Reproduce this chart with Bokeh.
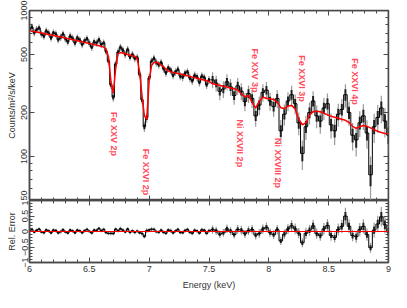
import numpy as np
from bokeh.plotting import figure
from bokeh.models import LogAxis, LinearAxis, FixedTicker, Range1d, Span
from bokeh.layouts import column
from bokeh.embed import file_html
from bokeh.resources import INLINE
from bokeh.core.properties import value

# ---------------- data ----------------
energy = [6.00, 6.02, 6.04, 6.06, 6.08, 6.10, 6.12, 6.14, 6.16, 6.18,
          6.20, 6.22, 6.24, 6.26, 6.28, 6.30, 6.32, 6.34, 6.36, 6.38,
          6.40, 6.42, 6.44, 6.46, 6.48, 6.50, 6.52, 6.54, 6.56, 6.58,
          6.60, 6.62, 6.64, 6.66, 6.68, 6.70, 6.72, 6.74, 6.76, 6.78,
          6.80, 6.82, 6.84, 6.86, 6.88, 6.90, 6.92, 6.94, 6.96, 6.98,
          7.00, 7.02, 7.04, 7.06, 7.08, 7.10, 7.12, 7.14, 7.16, 7.18,
          7.20, 7.22, 7.24, 7.26, 7.28, 7.30, 7.32, 7.34, 7.36, 7.38,
          7.40, 7.42, 7.44, 7.46, 7.48, 7.50,
          7.53, 7.56, 7.59, 7.62, 7.65, 7.68, 7.71, 7.74, 7.77, 7.80,
          7.83, 7.86, 7.89, 7.92, 7.95, 7.98, 8.01, 8.04, 8.07, 8.10,
          8.13, 8.16, 8.19, 8.22, 8.25, 8.28, 8.31, 8.34, 8.37, 8.40,
          8.43, 8.46, 8.49, 8.52, 8.55, 8.58, 8.61, 8.64, 8.67, 8.70,
          8.73, 8.76, 8.79, 8.82, 8.85, 8.88, 8.91, 8.94, 8.97, 9.00]

counts = [745, 770, 705, 740, 760, 690, 668, 725, 700, 650,
          705, 690, 632, 655, 690, 640, 610, 668, 645, 600,
          650, 628, 585, 620, 640, 598, 560, 610, 600, 630,
          585, 600, 525, 450, 310, 255, 430, 520, 560, 535,
          500, 540, 480, 500, 470, 475, 365, 245, 160, 185,
          345, 450, 470, 440, 425, 440, 400, 375, 405, 390,
          360, 380, 395, 355, 350, 372, 380, 345, 330, 360,
          350, 322, 355, 348, 310, 335,
          335, 318, 280, 290, 325, 300, 262, 305, 280, 238,
          270, 250, 190, 225, 275, 285, 240, 220, 250, 150,
          195, 240, 265, 230, 170, 105, 160, 200, 240, 190,
          175, 215, 230, 165, 150, 195, 210, 265, 200, 140,
          130, 170, 190, 145, 75, 160, 185, 215, 175, 140]

errors = [42, 44, 40, 42, 43, 39, 38, 41, 40, 37,
          40, 39, 36, 37, 39, 36, 35, 38, 37, 34,
          37, 36, 33, 35, 36, 34, 32, 35, 34, 36,
          33, 34, 30, 27, 20, 18, 26, 30, 32, 31,
          29, 31, 28, 29, 28, 28, 23, 17, 13, 14,
          22, 27, 28, 26, 26, 26, 24, 23, 24, 24,
          22, 23, 24, 22, 22, 23, 23, 22, 21, 22,
          22, 20, 22, 21, 20, 21,
          42, 40, 37, 38, 41, 39, 36, 40, 37, 34,
          37, 35, 30, 33, 38, 39, 34, 33, 36, 28,
          32, 36, 40, 36, 30, 24, 30, 34, 40, 34,
          32, 37, 40, 32, 30, 35, 38, 48, 38, 30,
          30, 34, 38, 32, 25, 36, 40, 46, 40, 36]

model = [728, 722, 717, 712, 706, 701, 696, 690, 685, 680,
         674, 669, 664, 658, 653, 648, 642, 637, 632, 626,
         621, 616, 610, 605, 600, 594, 589, 584, 578, 573,
         568, 562, 545, 480, 330, 272, 400, 505, 515, 512,
         506, 500, 494, 489, 484, 470, 380, 262, 190, 180,
         330, 420, 440, 443, 435, 422, 412, 398, 386, 380,
         377, 374, 370, 367, 364, 360, 357, 354, 350, 347,
         344, 340, 337, 334, 330, 327,
         315, 311, 307, 303, 299, 295, 291, 286, 268, 257,
         262, 235, 215, 240, 255, 251, 249, 246, 236, 216,
         213, 222, 224, 212, 180, 165, 170, 192, 203, 204,
         203, 198, 193, 189, 186, 183, 180, 177, 171, 161,
         156, 160, 163, 161, 157, 153, 149, 146, 144, 143]

line_labels = ["Fe XXV 2p", "Fe XXVI 2p", "Ni XXVII 2p", "Fe XXV 3p",
               "Ni XXVIII 2p", "Fe XXVI 3p", "Fe XXVI 4p"]
line_energy = [6.705, 6.97, 7.76, 7.885, 8.076, 8.28, 8.72]
label_top = [202, 113, 179, 549, 134, 494, 471]

x_major = [6, 6.5, 7, 7.5, 8, 8.5, 9]
x_labels = ["6", "6.5", "7", "7.5", "8", "8.5", "9"]
y_major = [50, 100, 200, 500, 1000]
y_labels = ["50", "100", "200", "500", "1000"]
r_major = [-1, -0.5, 0, 0.5, 1]
r_labels = ["−1", "−0.5", "0", "0.5", "1"]

# ---------------- derived ----------------
E = np.array(energy, float)
C = np.array(counts, float)
S = np.array(errors, float)
M = np.array(model, float)
R = (C - M) / M
RS = S / M

FONT = "Liberation Sans"
AX = "#4a4a4a"
TXT = "#333333"
x_minor = [round(6 + 0.1 * i, 1) for i in range(31)]
y_minor = [60, 70, 80, 90, 300, 400, 600, 700, 800, 900]
r_minor = [round(-1 + 0.1 * i, 1) for i in range(21)]


def style_axis(ax, show_labels):
    ax.axis_line_color = AX
    ax.axis_line_width = 1.5
    ax.major_tick_line_color = AX
    ax.minor_tick_line_color = AX
    ax.major_tick_in = 5
    ax.major_tick_out = 0
    ax.minor_tick_in = 3
    ax.minor_tick_out = 0
    ax.major_tick_line_width = 1
    ax.minor_tick_line_width = 1
    ax.major_label_text_font = FONT
    ax.axis_label_text_font = FONT
    ax.axis_label_text_color = TXT
    ax.axis_label_text_font_style = "normal"
    ax.axis_label_text_font_size = "9px"
    if show_labels:
        ax.major_label_text_color = TXT
        ax.major_label_text_font_size = "9px"
        ax.major_label_standoff = 2
    else:
        ax.major_label_text_color = None
        ax.major_label_text_font_size = "0px"
        ax.major_label_standoff = 0


W = 391

# ---------------- top panel ----------------
p1 = figure(width=W, height=200, x_range=Range1d(6, 9), y_range=Range1d(50, 1000),
            y_axis_type="log", output_backend="svg", toolbar_location=None,
            min_border_left=29, min_border_right=3, min_border_top=10, min_border_bottom=0)
p1.grid.visible = False
p1.outline_line_color = AX
p1.outline_line_width = 1.5

p1.xaxis.ticker = FixedTicker(ticks=x_major, minor_ticks=x_minor)
style_axis(p1.xaxis[0], False)
p1.xaxis.fixed_location = 50
p1.yaxis.ticker = FixedTicker(ticks=y_major, minor_ticks=y_minor)
p1.yaxis.major_label_overrides = dict(zip(y_major, y_labels))
p1.yaxis.major_label_orientation = "vertical"
p1.yaxis.axis_label = "Counts/m²/s/keV"
p1.yaxis.axis_label_standoff = 2
style_axis(p1.yaxis[0], True)

ra = LogAxis(ticker=FixedTicker(ticks=y_major, minor_ticks=y_minor), fixed_location=9)
style_axis(ra, False)
p1.add_layout(ra, "right")
ta = LinearAxis(ticker=FixedTicker(ticks=x_major, minor_ticks=x_minor), fixed_location=1000)
style_axis(ta, False)
p1.add_layout(ta, "above")

p1.segment(x0=E, y0=C - S, x1=E, y1=C + S, line_color="#9a9a9a", line_width=1.2)
p1.segment(x0=E, y0=C - 0.5 * S, x1=E, y1=C + 0.5 * S, line_color="#222222", line_width=2)
p1.step(x=E, y=C, mode="center", line_color="black", line_width=1)
p1.line(x=E, y=M, line_color="red", line_width=1.5)

p1.text(x=line_energy, y=label_top, text=line_labels, angle=-np.pi / 2,
        text_align="left", text_baseline="middle", text_color="#ff4d5e",
        text_font=value(FONT), text_font_style="bold", text_font_size="9px")

# ---------------- residual panel ----------------
p2 = figure(width=W, height=92, x_range=p1.x_range, y_range=Range1d(-1, 1),
            output_backend="svg", toolbar_location=None,
            min_border_left=29, min_border_right=3, min_border_top=0, min_border_bottom=0)
p2.grid.visible = False
p2.outline_line_color = AX
p2.outline_line_width = 1.5

p2.xaxis.ticker = FixedTicker(ticks=x_major, minor_ticks=x_minor)
p2.xaxis.major_label_overrides = dict(zip(x_major, x_labels))
p2.xaxis.axis_label = "Energy (keV)"
p2.xaxis.axis_label_standoff = 5
style_axis(p2.xaxis[0], True)
p2.xaxis.major_label_standoff = 3
p2.yaxis.ticker = FixedTicker(ticks=r_major, minor_ticks=r_minor)
p2.yaxis.major_label_overrides = dict(zip(r_major, r_labels))
p2.yaxis.major_label_orientation = "vertical"
p2.yaxis.axis_label = "Rel. Error"
p2.yaxis.axis_label_standoff = 2
style_axis(p2.yaxis[0], True)

ra2 = LinearAxis(ticker=FixedTicker(ticks=r_major, minor_ticks=r_minor), fixed_location=9)
style_axis(ra2, False)
p2.add_layout(ra2, "right")
ta2 = LinearAxis(ticker=FixedTicker(ticks=x_major, minor_ticks=x_minor), fixed_location=1)
style_axis(ta2, False)
p2.add_layout(ta2, "above")

p2.segment(x0=E, y0=R - RS, x1=E, y1=R + RS, line_color="#9a9a9a", line_width=1.2)
p2.segment(x0=E, y0=R - 0.5 * RS, x1=E, y1=R + 0.5 * RS, line_color="#222222", line_width=2)
p2.step(x=E, y=R, mode="center", line_color="black", line_width=1)
p2.add_layout(Span(location=0, dimension="width", line_color="red", line_width=1.2))

layout = column(p1, p2, spacing=0)
open("out.html", "w").write(file_html(layout, INLINE))
